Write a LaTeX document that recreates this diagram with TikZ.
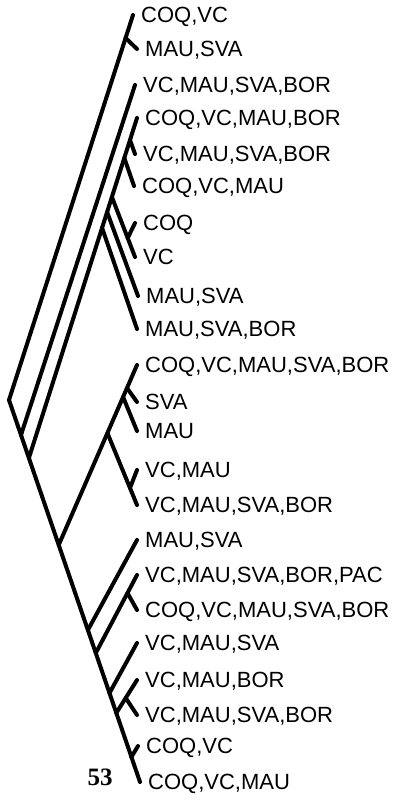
\documentclass[tikz,border=0pt]{standalone}
\usepackage{fontspec}
\usetikzlibrary{positioning}
\newfontfamily\labfont{Liberation Sans}
\newfontfamily\numfont{Liberation Serif}

\begin{document}
\begin{tikzpicture}[x=1pt,y=-1pt,node distance=8pt,
  edge/.style={line width=4pt,line cap=round},
  taxon/.style={font=\labfont\fontsize{22}{22}\selectfont,inner sep=0pt,text height=15.5pt,text depth=0pt},
  fignum/.style={font=\numfont\bfseries\fontsize{25}{25}\selectfont,inner sep=0pt}]
\useasboundingbox (0,0) rectangle (414,801);
% tree points
\coordinate (root) at (9,400);
\coordinate (t1) at (133,15);    \coordinate (j2) at (125.6,38);  \coordinate (t2) at (137,49);
\coordinate (j3) at (21,435);    \coordinate (t3) at (135,85);
\coordinate (j4) at (28.9,458);  \coordinate (t4) at (137,118);
\coordinate (j5) at (130,140);   \coordinate (t5) at (135,154);
\coordinate (j6) at (124.3,158); \coordinate (t6) at (134,186);
\coordinate (j8) at (111.9,197); \coordinate (t8) at (135,257);
\coordinate (j7) at (127.7,238); \coordinate (t7) at (135,223);
\coordinate (j9) at (107.1,212); \coordinate (t9) at (138,296);
\coordinate (j10) at (102.1,228); \coordinate (t10) at (137,329);
\coordinate (j11) at (58.7,545); \coordinate (t11) at (137,365);
\coordinate (j12) at (127,388);  \coordinate (t12) at (137,402);
\coordinate (j13) at (123.1,397); \coordinate (t13) at (137,431);
\coordinate (j15) at (107.4,433); \coordinate (t15) at (137,505);
\coordinate (j14) at (130,488);  \coordinate (t14) at (137,470);
\coordinate (j16) at (87.9,630); \coordinate (t16) at (137,540);
\coordinate (j17) at (95.8,653); \coordinate (t17) at (137,575);
\coordinate (j18) at (127.5,593); \coordinate (t18) at (137,610);
\coordinate (j19) at (109.5,693); \coordinate (t19) at (137,643);
\coordinate (j20) at (116.3,713); \coordinate (t20) at (137,680);
\coordinate (j21) at (125.7,698); \coordinate (t21) at (137,715);
\coordinate (j22) at (131.4,757); \coordinate (t22) at (138,746);
\coordinate (t23) at (140,782);
% branches
\draw[edge] (root) -- (t1);
\draw[edge] (root) -- (t23);
\draw[edge] (j2) -- (t2);
\draw[edge] (j3) -- (t3);
\draw[edge] (j4) -- (t4);
\draw[edge] (j5) -- (t5);
\draw[edge] (j6) -- (t6);
\draw[edge] (j8) -- (t8);
\draw[edge] (j7) -- (t7);
\draw[edge] (j9) -- (t9);
\draw[edge] (j10) -- (t10);
\draw[edge] (j11) -- (t11);
\draw[edge] (j12) -- (t12);
\draw[edge] (j13) -- (t13);
\draw[edge] (j15) -- (t15);
\draw[edge] (j14) -- (t14);
\draw[edge] (j16) -- (t16);
\draw[edge] (j17) -- (t17);
\draw[edge] (j18) -- (t18);
\draw[edge] (j19) -- (t19);
\draw[edge] (j20) -- (t20);
\draw[edge] (j21) -- (t21);
\draw[edge] (j22) -- (t22);
% taxa
\node[taxon,right=of t1] (lab1) {COQ,VC};
\node[taxon,right=of t2] (lab2) {MAU,SVA};
\node[taxon,right=of t3] (lab3) {VC,MAU,SVA,BOR};
\node[taxon,right=of t4] (lab4) {COQ,VC,MAU,BOR};
\node[taxon,right=of t5] (lab5) {VC,MAU,SVA,BOR};
\node[taxon,right=of t6] (lab6) {COQ,VC,MAU};
\node[taxon,right=of t7] (lab7) {COQ};
\node[taxon,right=of t8] (lab8) {VC};
\node[taxon,right=of t9] (lab9) {MAU,SVA};
\node[taxon,right=of t10] (lab10) {MAU,SVA,BOR};
\node[taxon,right=of t11] (lab11) {COQ,VC,MAU,SVA,BOR};
\node[taxon,right=of t12] (lab12) {SVA};
\node[taxon,right=of t13] (lab13) {MAU};
\node[taxon,right=of t14] (lab14) {VC,MAU};
\node[taxon,right=of t15] (lab15) {VC,MAU,SVA,BOR};
\node[taxon,right=of t16] (lab16) {MAU,SVA};
\node[taxon,right=of t17] (lab17) {VC,MAU,SVA,BOR,PAC};
\node[taxon,right=of t18] (lab18) {COQ,VC,MAU,SVA,BOR};
\node[taxon,right=of t19] (lab19) {VC,MAU,SVA};
\node[taxon,right=of t20] (lab20) {VC,MAU,BOR};
\node[taxon,right=of t21] (lab21) {VC,MAU,SVA,BOR};
\node[taxon,right=of t22] (lab22) {COQ,VC};
\node[taxon,right=of t23] (lab23) {COQ,VC,MAU};
\node[fignum] (num) at (100,777) {53};
\end{tikzpicture}
\end{document}
